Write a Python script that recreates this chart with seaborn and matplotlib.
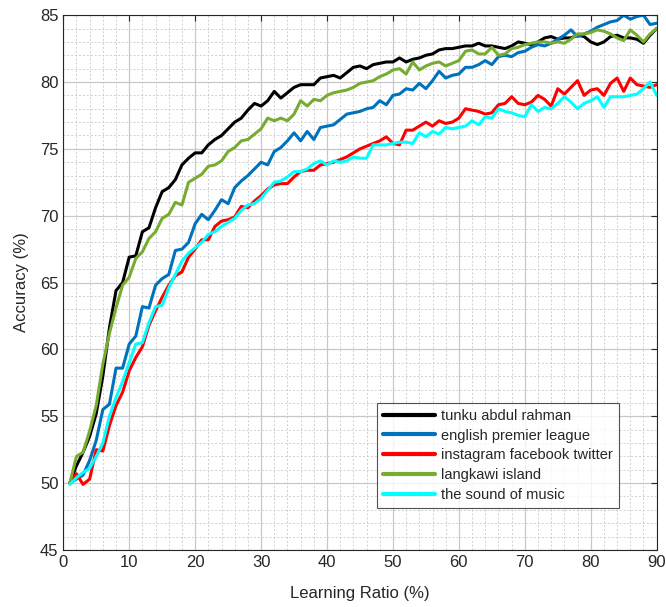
import numpy as np
import pandas as pd
import matplotlib
matplotlib.use('Agg')
import matplotlib.pyplot as plt
import seaborn as sns
from matplotlib.ticker import MultipleLocator

# ===================== 数据 =====================
ratio = list(range(1, 91))

tunku = [50.0, 51.3, 52.3, 53.5, 55.2, 58.0, 61.6, 64.4, 65.0, 66.9,
         67.0, 68.8, 69.1, 70.6, 71.8, 72.1, 72.7, 73.8, 74.3, 74.7,
         74.7, 75.3, 75.7, 76.0, 76.5, 77.0, 77.3, 77.9, 78.4, 78.2,
         78.6, 79.3, 78.8, 79.2, 79.6, 79.8, 79.8, 79.8, 80.3, 80.4,
         80.5, 80.3, 80.7, 81.1, 81.2, 81.0, 81.3, 81.4, 81.5, 81.5,
         81.8, 81.5, 81.7, 81.8, 82.0, 82.1, 82.4, 82.5, 82.5, 82.6,
         82.7, 82.7, 82.9, 82.7, 82.7, 82.6, 82.5, 82.7, 83.0, 82.9,
         82.8, 83.0, 83.3, 83.4, 83.2, 83.3, 83.3, 83.5, 83.4, 83.0,
         82.8, 83.0, 83.4, 83.5, 83.3, 83.3, 83.2, 82.9, 83.5, 84.0]

epl = [50.0, 50.3, 50.6, 51.7, 53.2, 55.5, 55.9, 58.6, 58.6, 60.4,
       61.0, 63.2, 63.1, 64.8, 65.3, 65.6, 67.4, 67.5, 68.0, 69.4,
       70.1, 69.7, 70.4, 71.2, 70.9, 72.1, 72.6, 73.0, 73.5, 74.0,
       73.8, 74.8, 75.1, 75.6, 76.2, 75.6, 76.3, 75.7, 76.6, 76.7,
       76.8, 77.2, 77.6, 77.7, 77.8, 78.0, 78.1, 78.6, 78.3, 79.0,
       79.1, 79.5, 79.4, 79.9, 79.5, 80.1, 80.8, 80.3, 80.5, 80.6,
       81.1, 81.1, 81.3, 81.6, 81.3, 81.9, 82.0, 81.9, 82.2, 82.3,
       82.6, 82.8, 82.7, 82.9, 83.2, 83.5, 83.9, 83.4, 83.6, 83.8,
       84.1, 84.3, 84.5, 84.6, 85.0, 84.7, 84.9, 85.0, 84.3, 84.4]

ift = [50.0, 50.7, 49.9, 50.3, 52.5, 52.4, 54.3, 55.8, 56.8, 58.4,
       59.4, 60.2, 61.8, 62.9, 63.9, 64.8, 65.5, 65.8, 66.9, 67.5,
       68.2, 68.2, 69.2, 69.6, 69.7, 69.9, 70.7, 70.6, 71.1, 71.5,
       72.0, 72.3, 72.4, 72.4, 72.9, 73.3, 73.4, 73.4, 73.8, 73.9,
       74.0, 74.2, 74.4, 74.7, 75.0, 75.2, 75.4, 75.6, 75.9, 75.4,
       75.3, 76.4, 76.4, 76.7, 77.0, 76.7, 77.1, 76.9, 77.0, 77.3,
       78.0, 77.9, 77.8, 77.6, 77.7, 78.3, 78.4, 78.9, 78.4, 78.3,
       78.5, 79.0, 78.7, 78.2, 79.5, 79.1, 79.6, 80.1, 79.0, 79.4,
       79.5, 79.0, 79.9, 80.3, 79.3, 80.3, 79.8, 79.7, 79.6, 79.8]

langkawi = [50.0, 52.0, 52.3, 53.9, 55.8, 58.9, 61.2, 63.1, 64.8, 65.4,
            66.8, 67.3, 68.3, 68.8, 69.8, 70.1, 71.0, 70.8, 72.5, 72.8,
            73.1, 73.7, 73.8, 74.1, 74.8, 75.1, 75.6, 75.7, 76.1, 76.5,
            77.3, 77.1, 77.3, 77.1, 77.6, 78.6, 78.2, 78.7, 78.6, 79.0,
            79.2, 79.3, 79.4, 79.6, 79.9, 80.0, 80.1, 80.4, 80.6, 80.9,
            81.0, 80.6, 81.5, 80.9, 81.2, 81.4, 81.5, 81.2, 81.4, 81.6,
            82.3, 82.4, 82.1, 82.1, 82.6, 82.0, 82.1, 82.5, 82.6, 82.8,
            82.9, 83.0, 83.0, 82.9, 83.0, 82.9, 83.2, 83.6, 83.6, 83.7,
            83.9, 83.8, 83.6, 83.3, 83.1, 83.9, 83.5, 83.0, 83.6, 84.0]

sound = [49.9, 50.4, 50.8, 51.1, 52.0, 53.0, 55.0, 56.4, 57.6, 59.0,
         60.4, 60.5, 62.0, 63.2, 63.3, 64.6, 65.6, 66.6, 67.2, 67.6,
         68.0, 68.6, 68.8, 69.2, 69.5, 69.8, 70.4, 70.8, 70.9, 71.3,
         71.9, 72.5, 72.6, 72.9, 73.3, 73.3, 73.5, 73.9, 74.1, 73.8,
         74.1, 74.0, 74.1, 74.4, 74.3, 74.3, 75.3, 75.3, 75.3, 75.4,
         75.5, 75.5, 75.4, 76.2, 75.9, 76.3, 76.1, 76.6, 76.5, 76.6,
         76.7, 77.1, 76.8, 77.4, 77.3, 78.0, 77.8, 77.7, 77.5, 77.4,
         78.3, 77.8, 78.1, 78.0, 78.4, 78.9, 78.5, 78.0, 78.4, 78.6,
         78.9, 78.1, 78.9, 78.9, 78.9, 79.0, 79.1, 79.5, 80.0, 79.0]

series = {
    'tunku abdul rahman': tunku,
    'english premier league': epl,
    'instagram facebook twitter': ift,
    'langkawi island': langkawi,
    'the sound of music': sound,
}
colors = ['#000000', '#0072BD', '#FF0000', '#77AC30', '#00FFFF']

df = pd.concat(
    [pd.DataFrame({'ratio': ratio, 'acc': v, 'query': k}) for k, v in series.items()],
    ignore_index=True)

# ===================== 绘图 =====================
sns.set_style('white')
plt.rcParams['font.family'] = ['Liberation Sans', 'DejaVu Sans']

fig = plt.figure(figsize=(6.66, 6.07), dpi=100)
ax = fig.add_axes([0.095, 0.094, 0.891, 0.881])

sns.lineplot(data=df, x='ratio', y='acc', hue='query', palette=colors,
             linewidth=2.2, ax=ax, legend=True)

ax.set_xlim(0, 90)
ax.set_ylim(45, 85)
ax.xaxis.set_major_locator(MultipleLocator(10))
ax.xaxis.set_minor_locator(MultipleLocator(2))
ax.yaxis.set_major_locator(MultipleLocator(5))
ax.yaxis.set_minor_locator(MultipleLocator(1))

ax.grid(which='major', color='#c8c8c8', linewidth=0.9, linestyle='-')
ax.grid(which='minor', color='#cfcfcf', linewidth=0.7, linestyle=(0, (2, 2)))
ax.set_axisbelow(True)

for s in ax.spines.values():
    s.set_visible(True)
    s.set_color('#262626')
    s.set_linewidth(0.8)

ax.tick_params(which='both', direction='in', top=True, right=True,
               colors='#262626', labelsize=12)
ax.tick_params(which='major', length=4)
ax.tick_params(which='minor', length=0)

ax.set_xlabel('Learning Ratio (%)', fontsize=12, color='#262626', labelpad=12)
ax.set_ylabel('Accuracy (%)', fontsize=12, color='#262626', labelpad=8)

leg = ax.legend(loc='lower right', bbox_to_anchor=(0.948, 0.065),
                fontsize=10.5, handlelength=3.6, frameon=True, fancybox=False,
                borderpad=0.4, labelspacing=0.4, handletextpad=0.4)
leg.get_frame().set_edgecolor('#262626')
leg.get_frame().set_linewidth(0.8)
leg.set_title(None)
for line in leg.get_lines():
    line.set_linewidth(3)

fig.savefig('out.png', dpi=100)
